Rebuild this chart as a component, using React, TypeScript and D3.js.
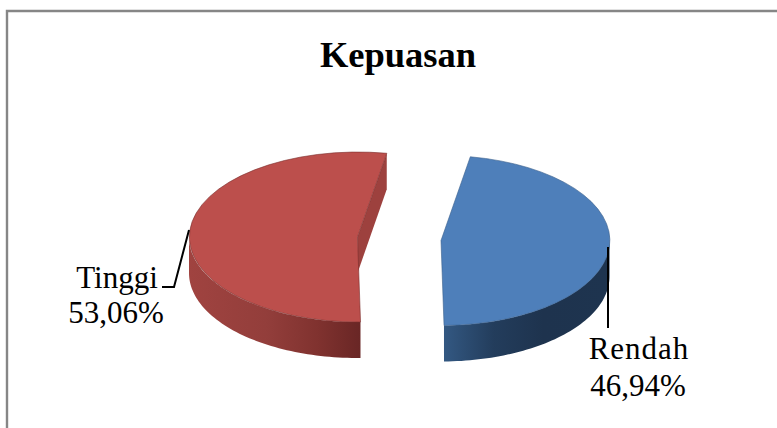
import * as d3 from "d3";

const WIDTH = 777;
const HEIGHT = 428;

const CATEGORIES = ["Rendah", "Tinggi"];
const VALUES = [46.94, 53.06];
const VALUE_LABELS = ["46,94%", "53,06%"];
const TOP_COLORS = ["#4e7fba", "#bc4f4c"];
const STROKES = ["#3a5f8c", "#7a2f2d"];

const RX = 168.5;
const RY = 85;
const DEPTH = 36;
const START = (10 * Math.PI) / 180;
const CENTERS = [
  { x: 441, y: 240.5 },
  { x: 357.5, y: 237 },
];

const pie = d3
  .pie<number>()
  .sort(null)
  .startAngle(START)
  .endAngle(START + 2 * Math.PI);
const slices = pie(VALUES);

const unitArc = d3.arc<d3.PieArcDatum<number>>().innerRadius(0).outerRadius(1);
const line = d3.line();

const project = (a: number, c: { x: number; y: number }, dy = 0): [number, number] => [
  c.x + RX * Math.sin(a),
  c.y - RY * Math.cos(a) + dy,
];

// outer wall, only the part of the rim that faces the viewer
function wallPath(a0: number, a1: number, c: { x: number; y: number }) {
  const angles = d3.range(0, 61).map((i) => a0 + ((a1 - a0) * i) / 60);
  const top = angles.map((a) => project(a, c));
  const bottom = angles.map((a) => project(a, c, DEPTH)).reverse();
  return line([...top, ...bottom]) + "Z";
}

export default function App() {
  const [blue, red] = slices;
  const cutA = red.endAngle;
  const cRed = CENTERS[1];
  const tip = project(cutA, cRed);
  const cutFace = line([
    [cRed.x, cRed.y],
    tip,
    [tip[0], tip[1] + DEPTH],
    [cRed.x, cRed.y + DEPTH],
  ]) + "Z";

  return (
    <svg
      width={WIDTH}
      height={HEIGHT}
      style={{ position: "absolute", left: 0, top: 0, background: "#fff" }}
    >
      <defs>
        <linearGradient id="wall-red" x1="0" x2="1" y1="0" y2="0">
          <stop offset="0" stopColor="#a04340" />
          <stop offset="0.45" stopColor="#933e3b" />
          <stop offset="0.75" stopColor="#80322f" />
          <stop offset="1" stopColor="#692625" />
        </linearGradient>
        <linearGradient id="wall-blue" x1="0" x2="1" y1="0" y2="0">
          <stop offset="0" stopColor="#335882" />
          <stop offset="0.3" stopColor="#233d5c" />
          <stop offset="0.6" stopColor="#1e334e" />
          <stop offset="1" stopColor="#1e344f" />
        </linearGradient>
      </defs>

      {/* chart frame */}
      <path
        d={`M7,${HEIGHT}V11H${WIDTH}`}
        fill="none"
        stroke="#868686"
        strokeWidth={2.4}
      />

      <text
        x={398}
        y={67}
        textAnchor="middle"
        fontFamily="'Liberation Serif', serif"
        fontWeight="bold"
        fontSize={36.5}
        fill="#000"
      >
        Kepuasan
      </text>

      {/* red slice */}
      <path d={cutFace} fill="#9d413e" />
      <path d={wallPath(red.startAngle, (3 * Math.PI) / 2, cRed)} fill="url(#wall-red)" />
      <path
        d={unitArc(red) ?? ""}
        transform={`translate(${cRed.x},${cRed.y}) scale(${RX},${RY})`}
        fill={TOP_COLORS[1]}
        stroke={STROKES[1]}
        strokeWidth={0.6}
        vectorEffect="non-scaling-stroke"
      />

      {/* blue slice */}
      <path d={wallPath(Math.PI / 2, blue.endAngle, CENTERS[0])} fill="url(#wall-blue)" />
      <path
        d={unitArc(blue) ?? ""}
        transform={`translate(${CENTERS[0].x},${CENTERS[0].y}) scale(${RX},${RY})`}
        fill={TOP_COLORS[0]}
        stroke={STROKES[0]}
        strokeWidth={0.6}
        vectorEffect="non-scaling-stroke"
      />

      {/* leader lines */}
      <path d="M189,230L174,287H162" fill="none" stroke="#000" strokeWidth={2} />
      <path d="M608,247V328" fill="none" stroke="#000" strokeWidth={2} />

      <g fontFamily="'Liberation Serif', serif" fontSize={31} fill="#000" textAnchor="middle">
        <text x={117} y={288}>{CATEGORIES[1]}</text>
        <text x={116} y={323}>{VALUE_LABELS[1]}</text>
        <text x={639} y={359} letterSpacing={1}>{CATEGORIES[0]}</text>
        <text x={638} y={396}>{VALUE_LABELS[0]}</text>
      </g>
    </svg>
  );
}
